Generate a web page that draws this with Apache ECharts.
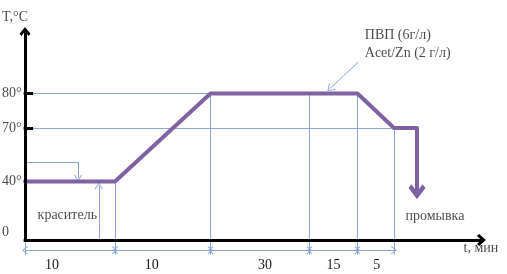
<!DOCTYPE html>
<html><head><meta charset="utf-8">
<script src="https://cdn.jsdelivr.net/npm/echarts@6/dist/echarts.min.js"></script>
<style>html,body{margin:0;padding:0;background:#fff}#c{width:507px;height:274px}</style>
</head><body><div id="c"></div>
<script>
// ---------------- data ----------------
const stepDurations = [10, 10, 30, 15, 5];            // min
const stepLabels    = ['10', '10', '30', '15', '5'];
const boundaryTemps = [40, 40, 80, 80, 80, 70];       // °C at each step boundary
const rinseStart    = 75;                              // end of the 70° hold (schematic)
const rinseEndTemp  = 33;                              // drop arrow end
const tempTicks      = [80, 70, 40, 0];
const tempTickLabels = ['80°', '70°', '40°', '0'];
const tickMarkTemps  = [80, 70];
const dyeLevel = 51;                                   // top of the "краситель" bracket
const yAxisTop = 98, xAxisEnd = 89, guideLow = -10, dimLevel = -7;

// ------------- schematic (not-to-scale) layout of the drawing -------------
const W = 507, H = 274;
const xLayout = { t: [0, 10, 20, 50, 65, 70, 75], px: [25, 115, 210.5, 309.5, 357.5, 394, 417] };
const yLayout = { T: [0, 40, 70, 80], px: [240, 181.5, 128, 93.5] };
function piece(v, a, b) {
  let i = 0;
  while (i < a.length - 2 && v > a[i + 1]) i++;
  return b[i] + (v - a[i]) * (b[i + 1] - b[i]) / (a[i + 1] - a[i]);
}
const sx = t => piece(t, xLayout.t, xLayout.px);
const sy = T => H - piece(T, yLayout.T, yLayout.px);
const P = (t, T) => [sx(t), sy(T)];

const purple = '#7f62a3', blue = '#8aa3d8', ink = '#1a1a1a';
const font = { fontFamily: 'Liberation Serif', fontSize: 14, color: ink };
const chevronBold = 'path://M10,0 L20,10.5 L16.5,14 L10,7 L3.5,14 L0,10.5 Z';
const chevronThin = 'path://M10,0 L20,12 L18.3,13.2 L10,3 L1.7,13.2 L0,12 Z';

const boundaryTimes = [0];
stepDurations.forEach(d => boundaryTimes.push(boundaryTimes[boundaryTimes.length - 1] + d));

const profile = boundaryTimes.map((t, i) => P(t, boundaryTemps[i]));
profile.push(P(rinseStart, boundaryTemps[boundaryTemps.length - 1]));

function seg(a, b, o) {
  o = o || {};
  const s = { coord: a, symbol: o.s0 || 'none', symbolSize: o.ss || 8 };
  const e = { coord: b, symbol: o.s1 || 'none', symbolSize: o.ss || 8 };
  if (o.lineStyle) s.lineStyle = o.lineStyle;
  if (o.label) s.label = o.label;
  return [s, e];
}

const guides = [];
guides.push(seg(P(0, 80), P(65, 80)));
guides.push(seg(P(0, 70), P(70, 70)));
guides.push(seg(P(0, 0), P(0, guideLow)));
boundaryTimes.slice(1).forEach((t, i) => {
  guides.push(seg(P(t, boundaryTemps[i + 1]), P(t, guideLow)));
});
// dimension line
const labelShift = [-18, -11, 5, 0, 1];
stepDurations.forEach((d, i) => {
  guides.push(seg(P(boundaryTimes[i], dimLevel), P(boundaryTimes[i + 1], dimLevel), {
    s0: chevronThin, s1: chevronThin, ss: [8, 6],
    label: { show: true, formatter: stepLabels[i], position: 'insideMiddleBottom', distance: 8,
             offset: [labelShift[i], 0], ...font }
  }));
});
// краситель bracket
guides.push(seg(P(0, dyeLevel), P(5.9, dyeLevel)));
guides.push(seg(P(5.9, dyeLevel), P(5.9, 42), { s1: chevronThin, ss: [8, 7] }));
guides.push(seg(P(8.2, 0), P(8.2, 37), { s1: chevronThin, ss: [8, 7] }));
// ПВП pointer
guides.push(seg(P(65.1, 89.1), P(56.4, 81.4), { s1: chevronThin, ss: [9, 7] }));

// black axes with arrows + tick marks
const axes = [
  seg(P(0, 0), P(0, yAxisTop), { s1: chevronBold, ss: [11, 9] }),
  seg(P(-0.15, 0), P(xAxisEnd, 0), { s1: chevronBold, ss: [12, 9] })
];
tickMarkTemps.forEach(T => axes.push(seg(P(-0.15, T), P(0.9, T))));

function text(t, T, str, align, extra) {
  return { value: P(t, T), label: Object.assign({ show: true, formatter: str, position: [0, 0],
    align: align || 'center', verticalAlign: 'middle', ...font }, extra || {}) };
}
const texts = [
  text(-2.55, 102.2, 'T,°C', 'left'),
  text(88.9, -5.5, 't, мин', 'center'),
  text(4.7, 17, 'краситель'),
  text(78.9, 16.4, 'промывка'),
  text(66.0, 94.3, 'ПВП (6г/л)\nAcet/Zn (2 г/л)', 'left', { lineHeight: 18 })
];
tempTicks.forEach((T, i) => {
  texts.push(text(-2.55, T, tempTickLabels[i], 'left', T === 0 ? { offset: [0, -8] } : {}));
});

const chart = echarts.init(document.getElementById('c'), null, { renderer: 'canvas' });
chart.setOption({
  animation: false,
  grid: { left: 0, right: 0, top: 0, bottom: 0 },
  xAxis: { type: 'value', min: 0, max: W, show: false },
  yAxis: { type: 'value', min: 0, max: H, show: false },
  series: [
    { type: 'line', data: [P(0, 0)], symbol: 'none', silent: true,
      markLine: { silent: true, animation: false, symbol: ['none', 'none'],
        label: { show: false }, lineStyle: { type: 'solid', width: 1, color: blue },
        emphasis: { disabled: true }, data: guides } },
    { type: 'line', data: profile, symbol: 'none', silent: true, z: 10,
      lineStyle: { color: purple, width: 4, join: 'round', cap: 'round' },
      markLine: { silent: true, animation: false, symbol: ['none', 'none'],
        label: { show: false }, lineStyle: { type: 'solid', width: 4, color: purple },
        emphasis: { disabled: true },
        data: [seg(P(rinseStart, boundaryTemps[boundaryTemps.length - 1]), P(rinseStart, rinseEndTemp), { s1: chevronBold, ss: [17, 15] })] } },
    { type: 'line', data: [P(0, 0)], symbol: 'none', silent: true, z: 12,
      markLine: { silent: true, animation: false, symbol: ['none', 'none'], z: 12,
        label: { show: false }, lineStyle: { type: 'solid', width: 3, color: '#000' },
        emphasis: { disabled: true }, data: axes } },
    { type: 'scatter', data: texts, symbolSize: 0, silent: true, z: 15,
      itemStyle: { color: 'transparent' } }
  ]
});
</script></body></html>
